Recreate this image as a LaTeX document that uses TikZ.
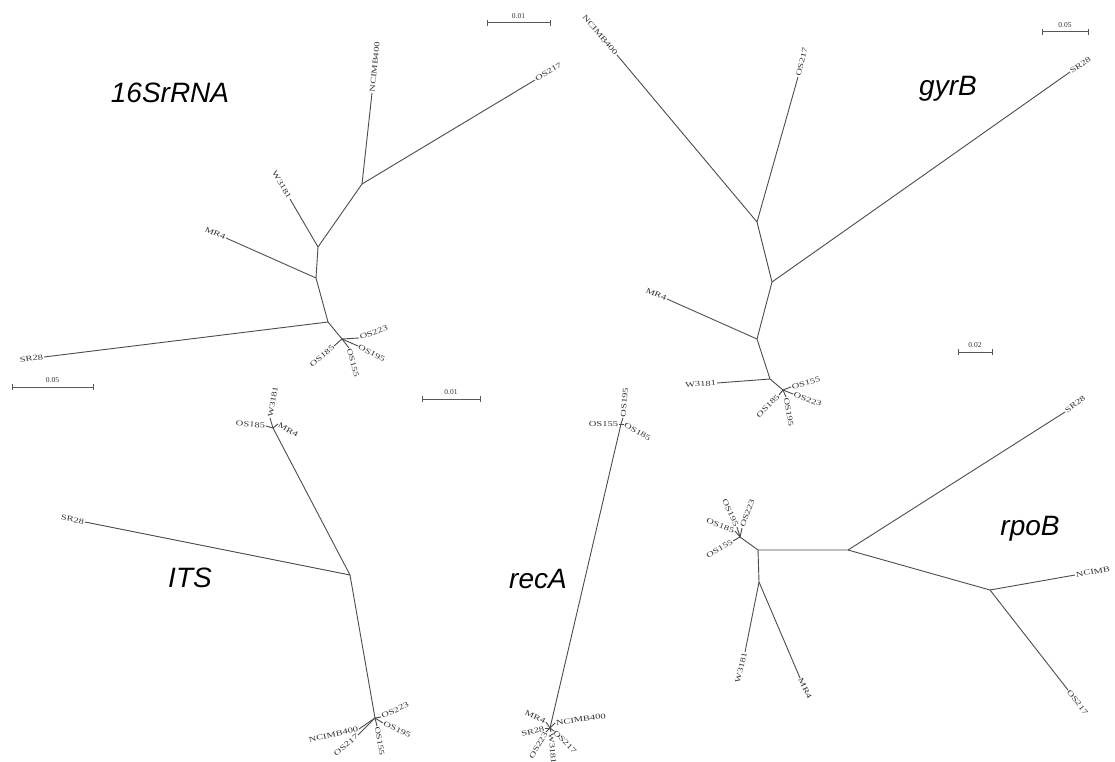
\documentclass[tikz,border=0pt]{standalone}
\usepackage{fontspec}
\setmainfont{Liberation Serif}
\newfontfamily\titlefont{Liberation Sans}
\usetikzlibrary{calc}
\tikzset{
  br/.style={draw=black!70, line width=0.9pt},
  lbl/.style={inner sep=0.8pt, font=\fontsize{7.5}{8}\selectfont, text=black!80},
  ttl/.style={font=\titlefont\itshape\fontsize{28}{30}\selectfont, inner sep=0pt},
  sbar/.style={draw=black!65, line width=1pt},
}
\newcommand\wide[1]{\scalebox{1.4}[1]{#1}}
% parent, end name, end position, text, rotation, anchor
\newcommand\leaf[6]{%
  \coordinate (#2) at (#3);
  \draw[br] (#1) -- (#2);
  \node[lbl, rotate=#5, anchor=#6] (#2-l) at (#2) {\wide{#4}};
}
% name, x1, x2, y, label
\newcommand\scbar[5]{%
  \coordinate (#1a) at (#2,#4);
  \coordinate (#1b) at (#3,#4);
  \draw[sbar] (#1a) -- (#1b);
  \draw[sbar] ($(#1a)+(0,-3)$) -- ($(#1a)+(0,3)$);
  \draw[sbar] ($(#1b)+(0,-3)$) -- ($(#1b)+(0,3)$);
  \node[lbl, anchor=south] (#1l) at ($(#1a)!0.5!(#1b)+(0,-3)$) {#5};
}
\begin{document}
\begin{tikzpicture}[x=1pt,y=-1pt]
\fill[white] (0,0) rectangle (1115,762);
\useasboundingbox (0,0) rectangle (1115,762);

% ---------- titles
\node[ttl] (h1) at (170,93) {16SrRNA};
\node[ttl] (h2) at (948,89) {gyrB};
\node[ttl] (h3) at (190,578) {ITS};
\node[ttl] (h4) at (538,579) {recA};
\node[ttl] (h5) at (1030,529) {rpoB};

% ---------- scale bars
\scbar{s1}{487}{550}{23}{0.01}
\scbar{s2}{1042}{1088}{32}{0.05}
\scbar{s3}{12}{93}{387}{0.05}
\scbar{s4}{422}{480}{399}{0.01}
\scbar{s5}{958}{992}{352}{0.02}

% ---------- 16SrRNA
\coordinate (a1) at (362,184);
\coordinate (a2) at (318,247);
\coordinate (a3) at (316,278);
\coordinate (a4) at (328,322);
\coordinate (a5) at (342,339);
\draw[br] (a1) -- (a2) -- (a3) -- (a4) -- (a5);
\leaf{a1}{t1n}{372,93}{NCIMB400}{84}{west}
\leaf{a1}{t1p}{535,80}{OS217}{31}{west}
\leaf{a2}{t1w}{290,199}{W3181}{-60}{east}
\leaf{a3}{t1m}{226,238}{MR4}{-24}{east}
\leaf{a4}{t1s}{44,357}{SR28}{7}{east}
\leaf{a5}{t1a}{334,346}{OS185}{40}{east}
\leaf{a5}{t1b}{349,348}{OS155}{-75}{west}
\leaf{a5}{t1c}{358,346}{OS195}{-28}{west}
\leaf{a5}{t1d}{359,338}{OS223}{20}{west}

% ---------- gyrB
\coordinate (g1) at (757,222);
\coordinate (g2) at (772,282);
\coordinate (g3) at (757,339);
\coordinate (g4) at (770,379);
\coordinate (g5) at (783,390);
\draw[br] (g1) -- (g2) -- (g3) -- (g4) -- (g5);
\leaf{g1}{t2n}{617,55}{NCIMB400}{-50}{east}
\leaf{g1}{t2p}{798,77}{OS217}{76}{west}
\leaf{g2}{t2s}{1070,72}{SR28}{35}{west}
\leaf{g3}{t2m}{667,299}{MR4}{-24}{east}
\leaf{g4}{t2w}{717,383}{W3181}{4}{east}
\leaf{g5}{t2a}{779,395}{OS185}{45}{east}
\leaf{g5}{t2b}{791,387}{OS155}{15}{west}
\leaf{g5}{t2c}{786,397}{OS195}{-80}{west}
\leaf{g5}{t2d}{793,394}{OS223}{-20}{west}

% ---------- ITS
\coordinate (i1) at (350,575);
\coordinate (i2) at (273,428);
\coordinate (i3) at (375,718);
\draw[br] (i2) -- (i1) -- (i3);
\leaf{i1}{t3s}{85,522}{SR28}{-11}{east}
\leaf{i2}{t3a}{266,426}{OS185}{-5}{east}
\leaf{i2}{t3w}{270,418}{W3181}{80}{west}
\leaf{i2}{t3m}{278,424}{MR4}{-30}{west}
\leaf{i3}{t3n}{359,729}{NCIMB400}{12}{east}
\leaf{i3}{t3p}{358,735}{OS217}{40}{east}
\leaf{i3}{t3b}{377,726}{OS155}{-80}{west}
\leaf{i3}{t3d}{381,717}{OS223}{25}{west}
\leaf{i3}{t3c}{383,723}{OS195}{-25}{west}

% ---------- recA
\coordinate (r1) at (621,424);
\coordinate (r2) at (550,728);
\draw[br] (r1) -- (r2);
\leaf{r1}{t4c}{623,418}{OS195}{85}{west}
\leaf{r1}{t4b}{619,424}{OS155}{0}{east}
\leaf{r1}{t4a}{624,424}{OS185}{-30}{west}
\leaf{r2}{t4n}{555,723}{NCIMB400}{8}{west}
\leaf{r2}{t4m}{546,722}{MR4}{-25}{east}
\leaf{r2}{t4s}{545,728}{SR28}{15}{east}
\leaf{r2}{t4d}{546,732}{OS223}{60}{east}
\leaf{r2}{t4p}{554,731}{OS217}{-45}{west}
\leaf{r2}{t4w}{551,732}{W3181}{-85}{west}

% ---------- rpoB
\coordinate (p0) at (758,550);
\coordinate (p1) at (848,550);
\coordinate (p2) at (990,590);
\coordinate (p3) at (759,582);
\coordinate (p4) at (740,537);
\draw[br] (p4) -- (p0) -- (p1) -- (p2);
\draw[br] (p0) -- (p3);
\leaf{p1}{t5s}{1065,412}{SR28}{37}{west}
\leaf{p2}{t5n}{1075,575}{NCIMB}{10}{west}
\leaf{p2}{t5p}{1068,690}{OS217}{-52}{west}
\leaf{p3}{t5w}{745,652}{W3181}{76}{east}
\leaf{p3}{t5m}{800,678}{MR4}{-64}{west}
\leaf{p4}{t5b}{733,541}{OS155}{30}{east}
\leaf{p4}{t5a}{735,531}{OS185}{-20}{east}
\leaf{p4}{t5c}{737,527}{OS195}{-65}{east}
\leaf{p4}{t5d}{742,528}{OS223}{70}{west}
\end{tikzpicture}
\end{document}
